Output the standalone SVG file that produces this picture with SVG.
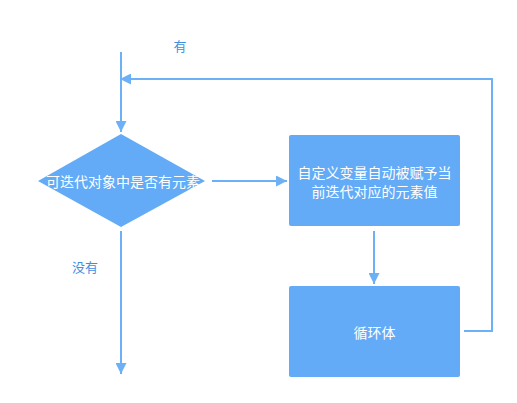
<svg xmlns="http://www.w3.org/2000/svg" width="517" height="403" viewBox="0 0 517 403">
<defs>
<style>
.shape{fill:#63abf6;}
.node-text{font-family:"Noto Sans CJK SC","Liberation Sans",sans-serif;font-size:14px;fill:#ffffff;text-anchor:middle;dominant-baseline:central;}
.label{font-family:"Noto Sans CJK SC","Liberation Sans",sans-serif;font-size:13px;fill:#3d8fe0;text-anchor:middle;dominant-baseline:central;}
.conn{fill:none;stroke:#6cb0f6;stroke-width:2;}
</style>
<marker id="arrow" viewBox="0 0 10 10" refX="10" refY="5" markerWidth="5.5" markerHeight="5.5" markerUnits="strokeWidth" orient="auto">
<path d="M0,0 L10,5 L0,10 z" fill="#6cb0f6"/>
</marker>
</defs>
<rect width="517" height="403" fill="#ffffff"/>
<g id="connectors">
<line class="conn" x1="121" y1="52" x2="121" y2="132" marker-end="url(#arrow)"/>
<line class="conn" x1="212" y1="181" x2="287" y2="181" marker-end="url(#arrow)"/>
<line class="conn" x1="374" y1="231" x2="374" y2="284" marker-end="url(#arrow)"/>
<polyline class="conn" points="464,331 492,331 492,79 120,79" marker-end="url(#arrow)"/>
<line class="conn" x1="121" y1="231" x2="121" y2="374" marker-end="url(#arrow)"/>
</g>
<g id="label-you">
<text class="label" x="180" y="45">有</text>
</g>
<g id="label-meiyou">
<text class="label" x="85" y="266">没有</text>
</g>
<g id="decision">
<polygon class="shape" points="121,134 205,181 121,227 38,181"/>
<text class="node-text" x="123" y="181">可迭代对象中是否有元素</text>
</g>
<g id="assign">
<rect class="shape" x="289" y="135" width="171" height="91" rx="2"/>
<text class="node-text" x="374.5" y="172">自定义变量自动被赋予当</text>
<text class="node-text" x="374.5" y="191">前迭代对应的元素值</text>
</g>
<g id="body">
<rect class="shape" x="289" y="286" width="171" height="91" rx="2"/>
<text class="node-text" x="374.5" y="332">循环体</text>
</g>
</svg>
